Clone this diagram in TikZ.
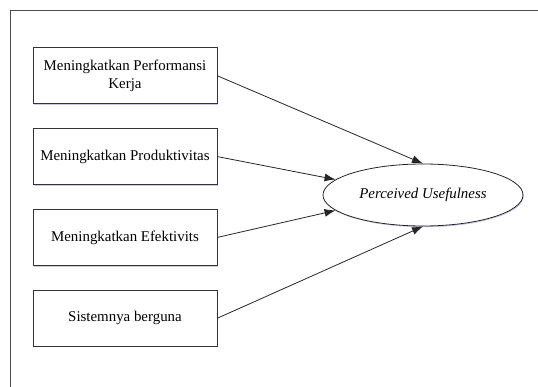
\documentclass[tikz,border=0pt]{standalone}
\usepackage{fontspec}
\setmainfont{Liberation Serif}
\usetikzlibrary{
  arrows.meta,
  shapes.geometric,
  matrix,
  shadows
}

\begin{document}
\begin{tikzpicture}[
      x=1pt,y=-1pt,
      indicator/.style={
         rectangle,
         minimum width=184pt,
         minimum height=56pt,
         line width=0.8pt,
         draw=black!80,
         fill=white,
         drop shadow={shadow xshift=0.8pt,shadow yshift=-1.2pt,opacity=0.3,fill=blue!40!gray},
         align=center,
         font=\fontsize{14.9}{18}\selectfont
      },
      construct/.style={
         ellipse,
         minimum width=200pt,
         minimum height=62pt,
         inner sep=0pt,
         line width=0.8pt,
         draw=black!85,
         fill=white,
         drop shadow={shadow xshift=0.8pt,shadow yshift=-1.2pt,opacity=0.3,fill=blue!40!gray},
         font=\fontsize{14.9}{18}\selectfont\itshape
      },
      >={Latex[length=11pt,width=8pt]},
      tip/.style={->,line width=0.8pt,draw=black!85},
      frame/.style={line width=0.9pt,draw=black!70}
    ]
    \useasboundingbox (0,0) rectangle (538,387);
    % page frame
    \draw [frame] (538,10) -- (10,10) -- (10,387);
    \matrix (m) at (125,197) [row sep=24pt] {
\node (n11) [indicator] {Meningkatkan Performansi\\Kerja}; \\
\node (n21) [indicator] {Meningkatkan Produktivitas}; \\
\node (n31) [indicator] {Meningkatkan Efektivits}; \\
\node (n41) [indicator] {Sistemnya berguna}; \\
    };
    \node (pu) [construct] at (423,195) {Perceived Usefulness};
    \draw [tip] (n11.east) -- (pu.north);
    \draw [tip] (n21.east) -- (pu.170);
    \draw [tip] (n31.east) -- (pu.190);
    \draw [tip] (n41.east) -- (pu.south);
\end{tikzpicture}
\end{document}
